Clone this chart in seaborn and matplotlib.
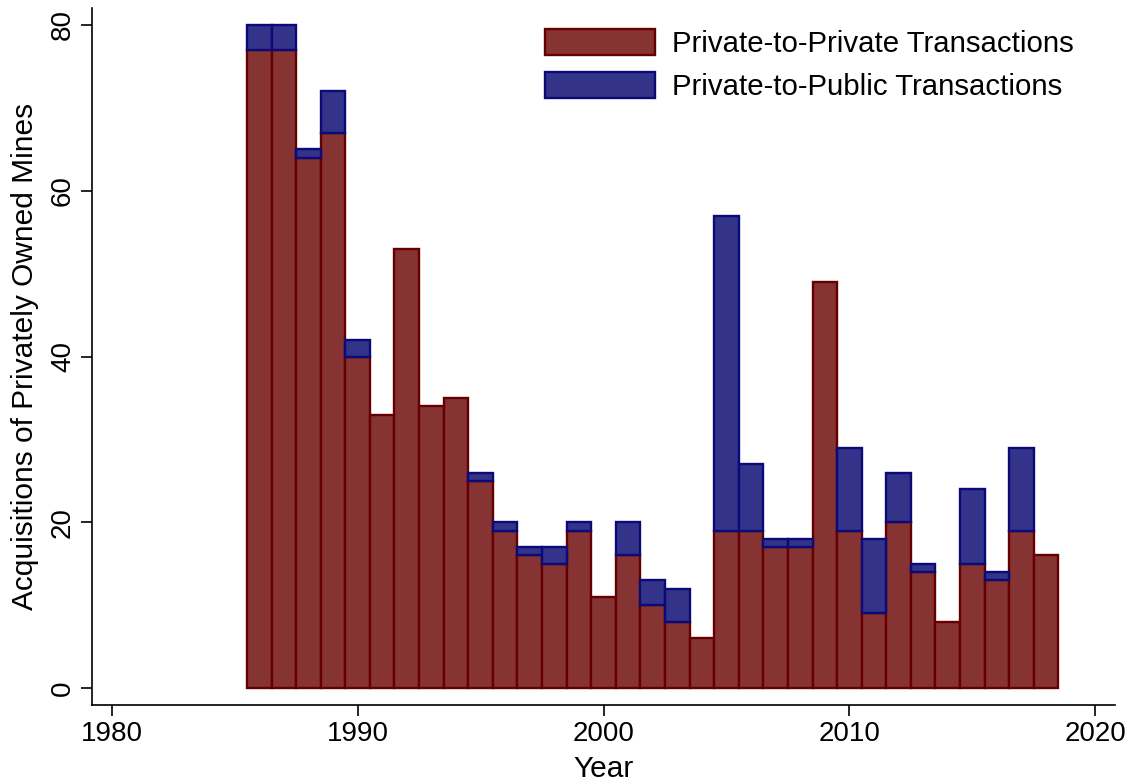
import matplotlib
matplotlib.use("Agg")
import matplotlib.pyplot as plt
import seaborn as sns
import numpy as np
import pandas as pd
from matplotlib.patches import Patch

years = list(range(1986, 2019))
private_to_private = [77, 77, 64, 67, 40, 33, 53, 34, 35, 25, 19, 16, 15, 19, 11,
                      16, 10, 8, 6, 19, 19, 17, 17, 49, 19, 9, 20, 14, 8, 15, 13, 19, 16]
private_to_public = [3, 3, 1, 5, 2, 0, 0, 0, 0, 1, 1, 1, 2, 1, 0,
                     4, 3, 4, 0, 38, 8, 1, 1, 0, 10, 9, 6, 1, 0, 9, 1, 10, 0]
labels = ["Private-to-Private Transactions", "Private-to-Public Transactions"]
x_ticks = [1980, 1990, 2000, 2010, 2020]
y_ticks = [0, 20, 40, 60, 80]

red_fill, red_edge = "#863333", "#660000"
blue_fill, blue_edge = "#33338a", "#0a0a78"

sns.set_theme(style="white")
plt.rcParams["font.family"] = ["Liberation Sans", "DejaVu Sans"]
plt.rcParams["text.color"] = "black"
plt.rcParams["axes.labelcolor"] = "black"

fig = plt.figure(figsize=(11.3, 7.84), dpi=100)
ax = fig.add_axes([92 / 1130, 1 - 705 / 784, (1115 - 92) / 1130, (705 - 8) / 784])

df = pd.DataFrame({"year": years, "priv": private_to_private, "pub": private_to_public})
sns.barplot(data=df, x="year", y="priv", native_scale=True, width=1,
            color=red_fill, edgecolor=red_edge, linewidth=1.7, saturation=1,
            errorbar=None, ax=ax)
pub = df[df["pub"] > 0]
sns.barplot(data=pub, x="year", y="pub", native_scale=True, width=1,
            bottom=pub["priv"].to_numpy(),
            color=blue_fill, edgecolor=blue_edge, linewidth=1.7, saturation=1,
            errorbar=None, ax=ax)

ax.set_xlim(1979.2, 2020.8)
ax.set_ylim(-2.05, 82.05)
ax.set_xticks(x_ticks)
ax.set_yticks(y_ticks)
ax.tick_params(axis="both", direction="out", length=8, width=1.2, colors="black",
               labelcolor="black", labelsize=20, bottom=True, left=True)
for lab in ax.get_yticklabels():
    lab.set_rotation(90)
    lab.set_va("center")
ax.set_xlabel("Year", fontsize=21.5, labelpad=6, color="black")
ax.set_ylabel("Acquisitions of Privately Owned Mines", fontsize=21.5, labelpad=8, color="black")
for s in ["top", "right"]:
    ax.spines[s].set_visible(False)
for s in ["left", "bottom"]:
    ax.spines[s].set_color("black")
    ax.spines[s].set_linewidth(1.2)
ax.grid(False)

handles = [Patch(facecolor=red_fill, edgecolor=red_edge, linewidth=1.7),
           Patch(facecolor=blue_fill, edgecolor=blue_edge, linewidth=1.7)]
fig.legend(handles, labels, loc="upper left", bbox_to_anchor=(545 / 1130, 1 - 29 / 784),
           bbox_transform=fig.transFigure, frameon=False, fontsize=21.2,
           handlelength=3.75, handleheight=1.0, handletextpad=0.55, labelspacing=0.45,
           borderpad=0, borderaxespad=0)

fig.savefig("out.png", dpi=100)
